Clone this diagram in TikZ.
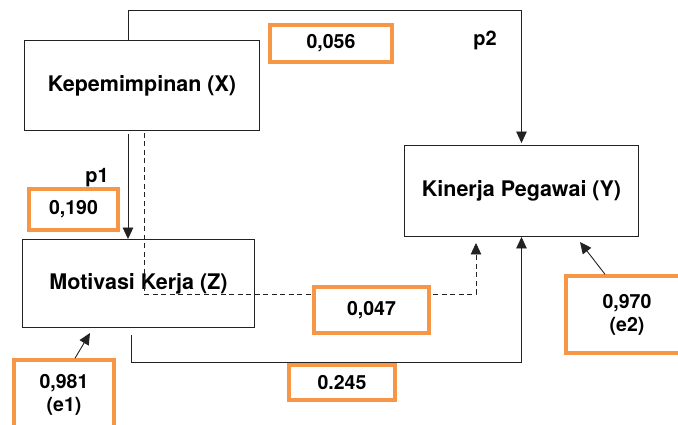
\documentclass[tikz,border=0pt]{standalone}
\usepackage{fontspec}
\setmainfont{TeX Gyre Heros}
\usetikzlibrary{arrows.meta,calc}
\definecolor{orng}{HTML}{F79646}
\definecolor{ln}{HTML}{222222}
\tikzset{
  varbox/.style={draw=ln,line width=0.9pt,fill=white,rectangle,align=center,
    font=\fontsize{21.5}{24}\selectfont\bfseries},
  valbox/.style={draw=orng,line width=3.5pt,fill=white,rectangle,align=center,
    font=\fontsize{19.5}{23}\selectfont\bfseries},
  plabel/.style={font=\fontsize{20}{22}\selectfont\bfseries},
  conn/.style={draw=ln,line width=0.9pt,-{Triangle[length=11.5pt,width=10.5pt]}},
  dconn/.style={conn,dash pattern=on 5pt off 3.5pt},
}
\begin{document}
\begin{tikzpicture}[x=1pt,y=-1pt]
\useasboundingbox (0,0) rectangle (678,425);
\clip (0,0) rectangle (678,425);
% variable boxes
\node[varbox,minimum width=235pt,minimum height=90pt] (X) at (142,85.5) {Kepemimpinan (X)};
\node[varbox,minimum width=232pt,minimum height=88pt] (Z) at (138.5,283.5) {Motivasi Kerja (Z)};
\node[varbox,minimum width=234pt,minimum height=91pt] (Y) at (521.5,191) {Kinerja Pegawai (Y)};
% coordinates
\coordinate (c1) at (128,10);
\coordinate (d1) at (144,294);
\coordinate (d2) at (476,294);
\coordinate (s1) at (131,362);
\coordinate (t1) at (90,333);
\coordinate (t2) at (580,242);
% connectors
\draw[conn,shorten >=2pt] (c1 |- X.north) -- (c1) -| (Y.north);
\draw[conn,shorten <=3pt] (c1 |- X.south) -- (c1 |- Z.north);
\draw[dconn,shorten <=2pt,shorten >=6pt] (d1 |- X.south) -- (d1) -- (d2) -- (d2 |- Y.south);
\draw[conn,shorten <=7pt] (s1 |- Z.south) -- (s1) -| (Y.south);
% value boxes
\node[valbox,minimum width=122pt,minimum height=37pt] (v1) at (331,43.5) {0,056};
\node[valbox,minimum width=89pt,minimum height=41pt] (v2) at (73.5,209.5) {0,190};
\node[valbox,minimum width=115pt,minimum height=46pt] (v3) at (371.5,310) {0,047};
\node[valbox,minimum width=106pt,minimum height=35pt] (v4) at (342,382.5) {0.245};
\node[valbox,minimum width=100pt,minimum height=70pt] (e1) at (64,395) {0,981\\(e1)};
\node[valbox,minimum width=122pt,minimum height=77pt] (e2) at (627,314.5) {0,970\\(e2)};
\draw[conn] ($(e1.north)+(11,0)$) -- (t1);
\draw[conn] ($(e2.north)+(-22,0)$) -- (t2);
% path labels
\node[plabel] (p1) at (97,178) {p1};
\node[plabel] (p2) at (485,40) {p2};
\end{tikzpicture}
\end{document}
